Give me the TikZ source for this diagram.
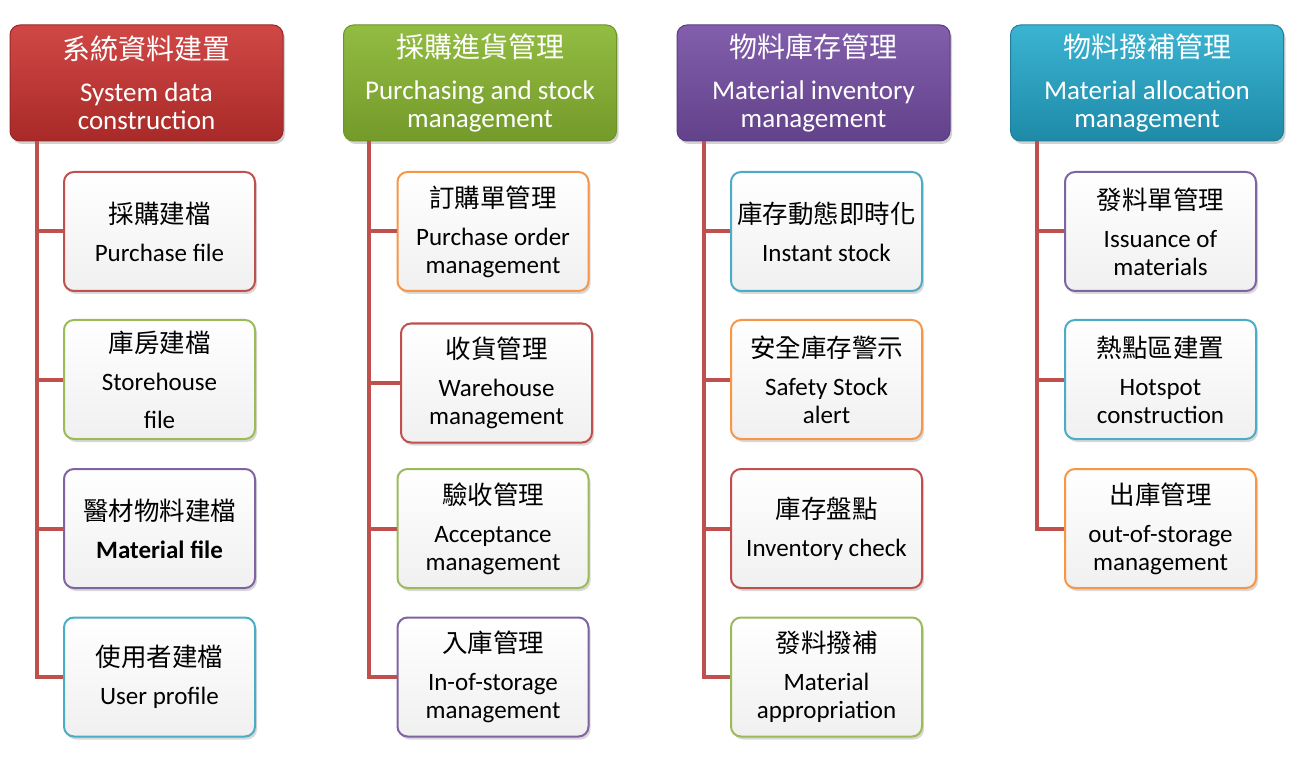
\documentclass[tikz,border=0pt]{standalone}
\usepackage{fontspec}
\setmainfont{Carlito}
\newfontfamily\cjk{Noto Sans CJK TC}
\usetikzlibrary{shadows}
\definecolor{bred}{HTML}{C0504D}
\definecolor{bgreen}{HTML}{9BBB59}
\definecolor{bpurple}{HTML}{8064A2}
\definecolor{bcyan}{HTML}{4BACC6}
\definecolor{borange}{HTML}{F79646}
\definecolor{conncol}{HTML}{C0504D}
\newcommand{\zh}[1]{{\cjk\fontsize{25.5}{28}\selectfont #1}}
\newcommand{\zhh}[1]{{\cjk\fontsize{28}{30}\selectfont #1}}
\tikzset{
  hdr/.style={rounded corners=10pt, minimum width=273pt, minimum height=116pt,
    inner sep=0pt, align=center, text=white, line width=1pt,
    font=\fontsize{27}{28}\selectfont,
    drop shadow={shadow xshift=2pt, shadow yshift=-3pt, opacity=0.35}},
  hred/.style={hdr, top color={rgb,255:red,208;green,72;blue,70}, bottom color={rgb,255:red,168;green,42;blue,40}, draw={rgb,255:red,150;green,40;blue,38}},
  hgreen/.style={hdr, top color={rgb,255:red,146;green,188;blue,66}, bottom color={rgb,255:red,116;green,154;blue,42}, draw={rgb,255:red,110;green,145;blue,40}},
  hpurple/.style={hdr, top color={rgb,255:red,130;green,94;blue,172}, bottom color={rgb,255:red,98;green,66;blue,138}, draw={rgb,255:red,90;green,60;blue,128}},
  hcyan/.style={hdr, top color={rgb,255:red,58;green,180;blue,210}, bottom color={rgb,255:red,30;green,138;blue,168}, draw={rgb,255:red,30;green,128;blue,156}},
  child/.style={rounded corners=10pt, minimum width=191pt, minimum height=119pt,
    inner sep=0pt, align=center, text=black, draw=#1, line width=2pt,
    top color=white, bottom color={rgb,255:red,240;green,240;blue,240},
    font=\fontsize{25}{28}\selectfont,
    drop shadow={shadow xshift=2pt, shadow yshift=-3pt, opacity=0.3}},
  conn/.style={draw=conncol, line width=4pt}
}
\begin{document}
\begin{tikzpicture}[x={(1pt,0)}, y={(0,-1pt)}]
\useasboundingbox[fill=white] (0,0) rectangle (1293,759);

% headers
\node[hred] (h1) at (146.5,83) {\zhh{系統資料建置}\\[14pt]System data\\construction};
\node[hgreen] (h2) at (480,83) {\zhh{採購進貨管理}\\[14pt]Purchasing and stock\\management};
\node[hpurple] (h3) at (813.5,83) {\zhh{物料庫存管理}\\[14pt]Material inventory\\management};
\node[hcyan] (h4) at (1147,83) {\zhh{物料撥補管理}\\[14pt]Material allocation\\management};

% column 1
\node[child=bred] (c11) at (159.5,231.5) {\zh{採購建檔}\\[10pt]Purchase file};
\node[child=bgreen] (c12) at (159.5,379.5) {\zh{庫房建檔}\\[10pt]Storehouse\\[10pt]file};
\node[child=bpurple] (c13) at (159.5,528.5) {\zh{醫材物料建檔}\\[10pt]\textbf{Material file}};
\node[child=bcyan] (c14) at (159.5,677) {\zh{使用者建檔}\\[10pt]User profile};

% column 2
\node[child=borange] (c21) at (493,231.5) {\zh{訂購單管理}\\[10pt]Purchase order\\management};
\node[child=bred] (c22) at (496.5,383) {\zh{收貨管理}\\[10pt]Warehouse\\management};
\node[child=bgreen] (c23) at (493,528.5) {\zh{驗收管理}\\[10pt]Acceptance\\management};
\node[child=bpurple] (c24) at (493,677) {\zh{入庫管理}\\[10pt]In-of-storage\\management};

% column 3
\node[child=bcyan] (c31) at (826.5,231.5) {\zh{庫存動態即時化}\\[10pt]Instant stock};
\node[child=borange] (c32) at (826.5,379.5) {\zh{安全庫存警示}\\[10pt]Safety Stock\\alert};
\node[child=bred] (c33) at (826.5,528.5) {\zh{庫存盤點}\\[10pt]Inventory check};
\node[child=bgreen] (c34) at (826.5,677) {\zh{發料撥補}\\[10pt]Material\\appropriation};

% column 4
\node[child=bpurple] (c41) at (1160.5,231.5) {\zh{發料單管理}\\[10pt]Issuance of\\materials};
\node[child=bcyan] (c42) at (1160.5,379.5) {\zh{熱點區建置}\\[10pt]Hotspot\\construction};
\node[child=borange] (c43) at (1160.5,528.5) {\zh{出庫管理}\\[10pt]out-of-storage\\management};

% trunk start points
\coordinate (t1) at ([xshift=27pt]h1.south west);
\coordinate (t2) at ([xshift=26pt]h2.south west);
\coordinate (t3) at ([xshift=27pt]h3.south west);
\coordinate (t4) at ([xshift=27pt]h4.south west);

\draw[conn] (t1) |- (c14.west);
\draw[conn] (t1 |- c11.west) -- (c11.west);
\draw[conn] (t1 |- c12.west) -- (c12.west);
\draw[conn] (t1 |- c13.west) -- (c13.west);

\draw[conn] (t2) |- (c24.west);
\draw[conn] (t2 |- c21.west) -- (c21.west);
\draw[conn] (t2 |- c22.west) -- (c22.west);
\draw[conn] (t2 |- c23.west) -- (c23.west);

\draw[conn] (t3) |- (c34.west);
\draw[conn] (t3 |- c31.west) -- (c31.west);
\draw[conn] (t3 |- c32.west) -- (c32.west);
\draw[conn] (t3 |- c33.west) -- (c33.west);

\draw[conn] (t4) |- (c43.west);
\draw[conn] (t4 |- c41.west) -- (c41.west);
\draw[conn] (t4 |- c42.west) -- (c42.west);
\end{tikzpicture}
\end{document}
